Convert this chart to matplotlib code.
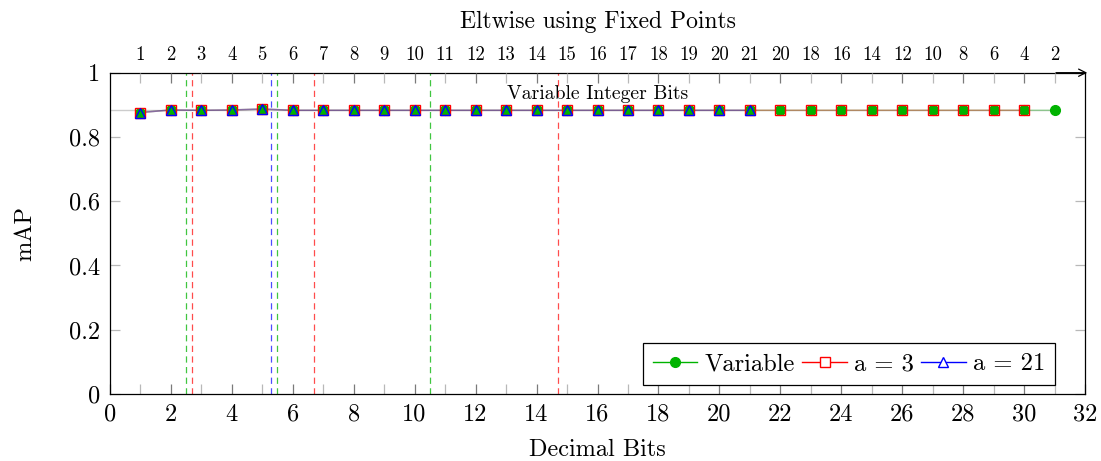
import matplotlib
matplotlib.use("Agg")
import matplotlib.pyplot as plt
from matplotlib.lines import Line2D

plt.rcParams["font.family"] = "cmr10"
plt.rcParams["mathtext.fontset"] = "cm"
plt.rcParams["axes.unicode_minus"] = False
plt.rcParams["axes.formatter.use_mathtext"] = True

# Decimal bits on the bottom axis
decimal_bits = list(range(1, 32))

# mAP per configuration
map_variable = [0.876, 0.884, 0.883, 0.884, 0.887, 0.883, 0.883, 0.883, 0.883, 0.883,
                0.883, 0.883, 0.883, 0.883, 0.883, 0.883, 0.883, 0.883, 0.883, 0.883,
                0.883, 0.883, 0.883, 0.883, 0.883, 0.883, 0.883, 0.883, 0.883, 0.883,
                0.883]
map_a3 = [0.876, 0.884, 0.883, 0.884, 0.887, 0.883, 0.883, 0.883, 0.883, 0.883,
          0.883, 0.883, 0.883, 0.883, 0.883, 0.883, 0.883, 0.883, 0.883, 0.883,
          0.883, 0.883, 0.883, 0.883, 0.883, 0.883, 0.883, 0.883, 0.883, 0.883]
map_a21 = [0.876, 0.884, 0.883, 0.884, 0.887, 0.883, 0.883, 0.883, 0.883, 0.883,
           0.883, 0.883, 0.883, 0.883, 0.883, 0.883, 0.883, 0.883, 0.883, 0.883,
           0.883]

# Floating point reference accuracy
float_reference = 0.883

# Integer bits used by the variable configuration (top axis)
integer_bits = ["1", "2", "3", "4", "5", "6", "7", "8", "9", "10", "11", "12", "13",
                "14", "15", "16", "17", "18", "19", "20", "21", "20", "18", "16",
                "14", "12", "10", "8", "6", "4", "2"]

# Vertical markers
green_marks = [2.5, 5.5, 10.5]
red_marks = [2.7, 6.7, 14.7]
blue_marks = [5.3]

GREEN = "#00b300"
RED = "#ff0000"
BLUE = "#0000ff"
MAJOR_TICK = "#7a7a7a"
MINOR_TICK = "#b8b8b8"

fig = plt.figure(figsize=(11.01, 4.61), dpi=100)
ax = fig.add_axes([0.0997, 0.1453, 0.8860, 0.6970])
ax.set_xlim(0, 32)
ax.set_ylim(0, 1)

# reference line
ax.plot([0, 31], [float_reference, float_reference], color="#cccccc", lw=1.0, zorder=1)

dash = (0, (5, 3.5))
for xv in green_marks:
    ax.axvline(xv, color=GREEN, ls=dash, lw=0.9, alpha=0.75, zorder=2)
for xv in red_marks:
    ax.axvline(xv, color=RED, ls=dash, lw=0.9, alpha=0.7, zorder=2)
for xv in blue_marks:
    ax.axvline(xv, color=BLUE, ls=dash, lw=0.9, alpha=0.7, zorder=2)

# series lines (translucent) then markers
ax.plot(decimal_bits, map_variable, color=GREEN, lw=1.1, alpha=0.3, zorder=3)
ax.plot(decimal_bits[:len(map_a3)], map_a3, color=RED, lw=1.1, alpha=0.3, zorder=3)
ax.plot(decimal_bits[:len(map_a21)], map_a21, color=BLUE, lw=1.1, alpha=0.3, zorder=3)

ax.plot(decimal_bits, map_variable, ls="none", marker="o", ms=7,
        mfc=GREEN, mec=GREEN, zorder=4)
ax.plot(decimal_bits[:len(map_a3)], map_a3, ls="none", marker="s", ms=7.5,
        mfc="none", mec=RED, mew=1.0, zorder=5)
ax.plot(decimal_bits[:len(map_a21)], map_a21, ls="none", marker="^", ms=7,
        mfc="none", mec=BLUE, mew=1.0, zorder=6)

# bottom axis ticks
ax.set_xticks(range(0, 33, 2))
ax.set_xticks(range(1, 32, 2), minor=True)
ax.set_xticklabels([str(v) for v in range(0, 33, 2)])
ax.tick_params(axis="x", which="major", direction="in", length=7, width=0.9,
               color=MAJOR_TICK, labelsize=17.5, pad=7, top=False)
ax.tick_params(axis="x", which="minor", direction="in", length=7, width=0.9,
               color=MINOR_TICK, top=False)

yt = [0, 0.2, 0.4, 0.6, 0.8, 1.0]
ax.set_yticks(yt)
ax.set_yticklabels(["0", "0.2", "0.4", "0.6", "0.8", "1"])
ax.tick_params(axis="y", direction="in", length=7, width=0.9, color=MINOR_TICK,
               labelsize=17.5, pad=7, left=True, right=True)

for sp in ax.spines.values():
    sp.set_color("black")
    sp.set_linewidth(0.9)

# top axis with integer bits
ax2 = ax.twiny()
ax2.set_xlim(0, 32)
even_pos = [p for p in decimal_bits if p % 2 == 0]
odd_pos = [p for p in decimal_bits if p % 2 == 1]
ax2.set_xticks(even_pos)
ax2.set_xticklabels([integer_bits[p - 1] for p in even_pos])
ax2.set_xticks(odd_pos, minor=True)
ax2.set_xticklabels([integer_bits[p - 1] for p in odd_pos], minor=True)
ax2.tick_params(axis="x", which="major", direction="in", length=7, width=0.9,
                color=MAJOR_TICK, labelsize=13.5, pad=6)
ax2.tick_params(axis="x", which="minor", direction="in", length=7, width=0.9,
                color=MINOR_TICK, labelsize=13.5, pad=6)
for sp in ax2.spines.values():
    sp.set_visible(False)

# arrow head on the top axis line
ax.annotate("", xy=(1.002, 1.0), xytext=(0.97, 1.0), xycoords="axes fraction",
            textcoords="axes fraction",
            arrowprops=dict(arrowstyle="->", lw=0.9, color="black",
                            mutation_scale=13, shrinkA=0, shrinkB=0),
            annotation_clip=False, zorder=10)

ax.text(0.5, 0.934, "Variable Integer Bits", transform=ax.transAxes,
        ha="center", va="center", fontsize=14.2, zorder=7)

fig.text(0.5427, 1 - 22 / 461, "Eltwise using Fixed Points", ha="center",
         va="center", fontsize=17)
fig.text(0.5427, 1 - 450 / 461, "Decimal Bits", ha="center", va="center", fontsize=17.5)
fig.text(25 / 1101, 0.4938, "mAP", ha="center", va="center", rotation=90, fontsize=17.5)

handles = [
    Line2D([], [], color=GREEN, lw=1.0, marker="o", ms=7, mfc=GREEN, mec=GREEN),
    Line2D([], [], color=RED, lw=1.0, marker="s", ms=7, mfc="white", mec=RED, mew=1.0),
    Line2D([], [], color=BLUE, lw=1.0, marker="^", ms=7, mfc="white", mec=BLUE, mew=1.0),
]
leg = ax.legend(handles, ["Variable", "a = 3", "a = 21"], loc="lower right",
                bbox_to_anchor=(0.969, 0.028), ncol=3, fontsize=17.7, numpoints=1,
                frameon=True, fancybox=False, framealpha=1, edgecolor="black",
                handlelength=1.8, handletextpad=0.3, columnspacing=0.3,
                borderpad=0.4, borderaxespad=0)
leg.get_frame().set_linewidth(0.9)
leg.set_zorder(20)

fig.savefig("out.png", dpi=100)
